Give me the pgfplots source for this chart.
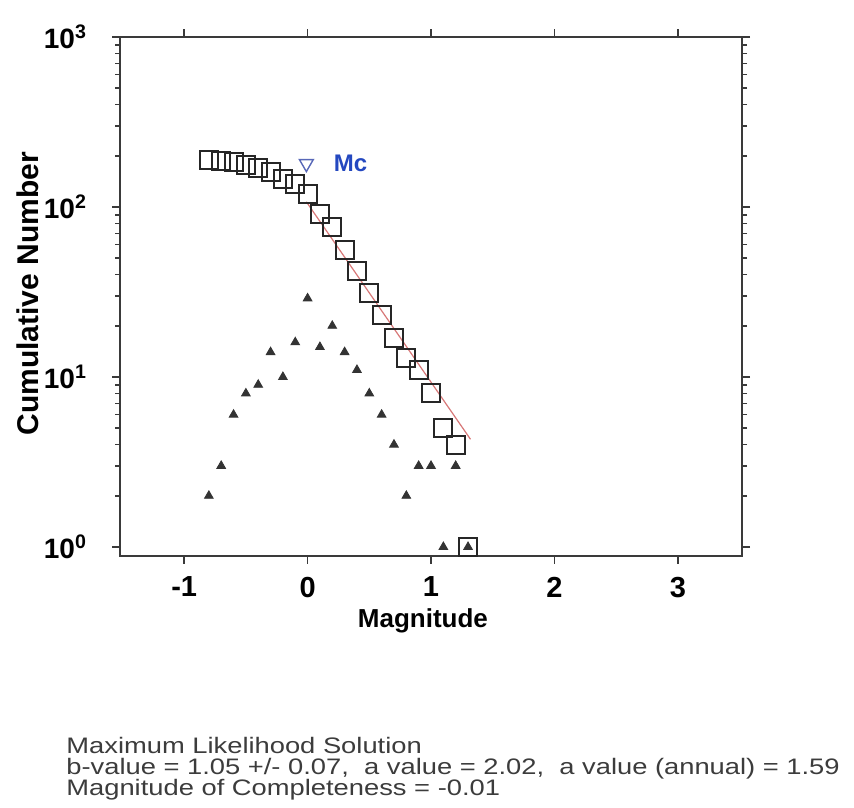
\documentclass[border=0pt]{standalone}
\usepackage{pgfplots}
\pgfplotsset{compat=1.18}
\usepackage{graphicx}
\usepackage{fontspec}
\setmainfont{Liberation Sans}
\definecolor{axgray}{HTML}{3A3A3A}
\definecolor{fitred}{HTML}{D87878}
\definecolor{mcblue}{HTML}{2448C0}
\definecolor{mcmark}{HTML}{5868B8}
\definecolor{txtgray}{HTML}{3C3C3C}
\definecolor{trigray}{HTML}{333333}
\begin{document}
\begin{tikzpicture}
\path[use as bounding box] (0pt,0pt) rectangle (427pt,403.5pt);
\begin{axis}[
  at={(60pt,125.5pt)}, anchor=south west,
  scale only axis, width=311pt, height=259.5pt,
  ymode=log,
  xmin=-1.52, xmax=3.52,
  ymin=0.885, ymax=1000,
  xtick={-1,0,1,2,3},
  xticklabels={-1,0,1,2,3},
  ytick={1,10,100,1000},
  yticklabels={10\textsuperscript{0},10\textsuperscript{1},10\textsuperscript{2},10\textsuperscript{3}},
  tick align=outside,
  xtick pos=both, xticklabel pos=bottom,
  ytick pos=both, yticklabel pos=left,
  major tick length=4pt, minor tick length=2.5pt,
  axis line style={axgray, line width=1pt},
  every tick/.style={axgray, line width=0.8pt},
  xticklabel style={font=\bfseries\fontsize{14.5}{16}\selectfont, text=black, yshift=-3pt},
  yticklabel style={font=\bfseries\fontsize{14}{16}\selectfont, text=black, xshift=-9pt},
  xlabel={Magnitude},
  ylabel={Cumulative Number},
  xlabel style={font=\bfseries\fontsize{13}{15}\selectfont, at={(axis description cs:0.487,-0.125)}, anchor=center},
  ylabel style={font=\bfseries\fontsize{15}{17}\selectfont, at={(axis description cs:-0.148,0.505)}, anchor=center, rotate=0},
  clip=false,
]
% fitted Gutenberg-Richter line
\addplot[fitred, line width=0.6pt] coordinates {(-0.01,107.3) (1.32,4.3)};
% non-cumulative numbers
\addplot[only marks, mark=triangle*, mark size=2.5pt, trigray, mark options={fill=trigray, draw=trigray}] coordinates {
(-0.8,2) (-0.7,3) (-0.6,6) (-0.5,8) (-0.4,9) (-0.3,14) (-0.2,10) (-0.1,16)
(0.0,29) (0.1,15) (0.2,20) (0.3,14) (0.4,11) (0.5,8) (0.6,6) (0.7,4)
(0.8,2) (0.9,3) (1.0,3) (1.1,1) (1.2,3) (1.3,1)};
% cumulative numbers
\addplot[only marks, mark=square, mark size=4.5pt, black, mark options={line width=1pt, draw=black!85}] coordinates {
(-0.8,188) (-0.7,186) (-0.6,183) (-0.5,177) (-0.4,169) (-0.3,160) (-0.2,146) (-0.1,136)
(0.0,120) (0.1,91) (0.2,76) (0.3,56) (0.4,42) (0.5,31) (0.6,23) (0.7,17)
(0.8,13) (0.9,11) (1.0,8) (1.1,5) (1.2,4) (1.3,1)};
% magnitude of completeness
\addplot[only marks, mark=triangle, mark size=4pt, mcmark, mark options={rotate=180, line width=0.7pt}] coordinates {(-0.01,180)};
\node[anchor=west, inner sep=0pt, text=mcblue, font=\bfseries\fontsize{12}{14}\selectfont] at (axis cs:0.21,181) {Mc};
\end{axis}
\begin{scope}[every node/.style={anchor=base west, inner sep=0pt, text=txtgray, font=\fontsize{11.2}{12}\selectfont}]
\node at (33pt,27pt) {\scalebox{1.22}[1]{Maximum Likelihood Solution}};
\node at (33pt,16.5pt) {\scalebox{1.22}[1]{b-value = 1.05 +/- 0.07,~ a value = 2.02,~ a value (annual) = 1.59}};
\node at (33pt,6pt) {\scalebox{1.22}[1]{Magnitude of Completeness = -0.01}};
\end{scope}
\end{tikzpicture}
\end{document}
